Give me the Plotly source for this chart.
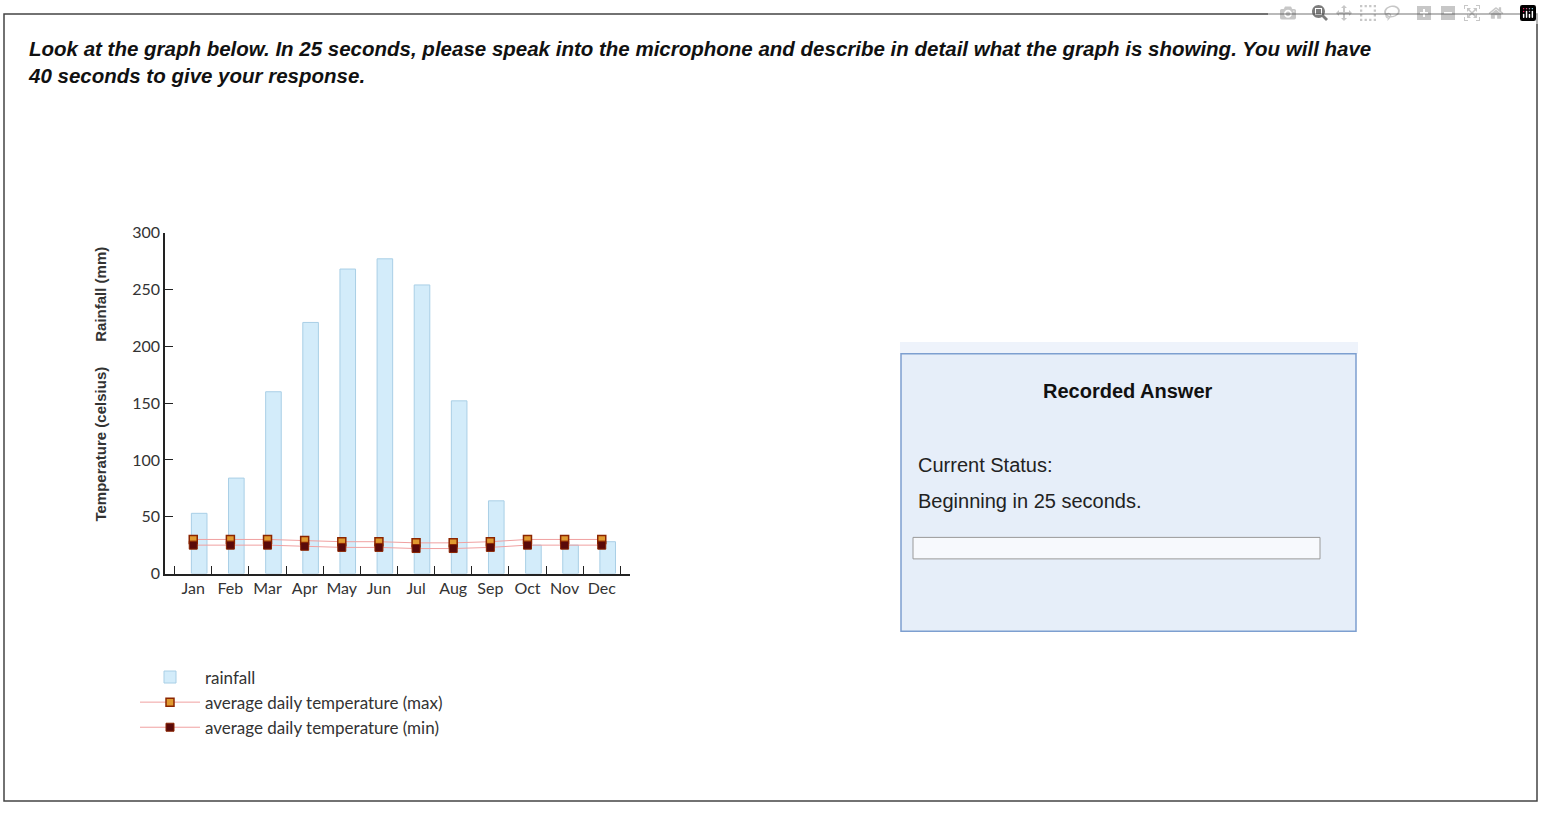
import plotly.graph_objects as go

months = ["Jan", "Feb", "Mar", "Apr", "May", "Jun", "Jul", "Aug", "Sep", "Oct", "Nov", "Dec"]
rainfall = [53, 84, 160, 221, 268, 277, 254, 152, 64, 25, 25, 28]
temp_max = [30, 30, 30, 29, 28, 28, 27, 27, 28, 30, 30, 30]
temp_min = [25, 25, 25, 24, 23, 23, 22, 22, 23, 25, 25, 25]

W, H = 1542, 814
px = lambda x: x / W
py = lambda y: 1 - y / H

fig = go.Figure()
fig.add_trace(go.Bar(x=months, y=rainfall, name="rainfall", width=0.42, offset=-0.05,
                     marker=dict(color="#d3ecfa", line=dict(color="#a9cfe6", width=1))))
fig.add_trace(go.Scatter(x=months, y=temp_max, name="average daily temperature (max)",
                         mode="lines+markers", line=dict(color="#f0a0a0", width=1),
                         marker=dict(symbol="square", size=8, color="#e09a30",
                                     line=dict(color="#8b2500", width=1.5))))
fig.add_trace(go.Scatter(x=months, y=temp_min, name="average daily temperature (min)",
                         mode="lines+markers", line=dict(color="#f0a0a0", width=1),
                         marker=dict(symbol="square", size=8, color="#5a0a0a",
                                     line=dict(color="#8b2500", width=1))))

shapes = [
    dict(type="rect", xref="paper", yref="paper", x0=px(4), x1=px(1537), y0=py(810), y1=py(4),
         line=dict(color="#444", width=1.5)),
    dict(type="rect", xref="paper", yref="paper", x0=px(900), x1=px(1358), y0=py(352), y1=py(340),
         fillcolor="#eef3fb", line=dict(width=0), layer="below"),
    dict(type="rect", xref="paper", yref="paper", x0=px(901), x1=px(1356), y0=py(636), y1=py(352),
         fillcolor="#e6eef9", line=dict(color="#7d9fd0", width=1.5), layer="below"),
    dict(type="rect", xref="paper", yref="paper", x0=px(913), x1=px(1320), y0=py(562), y1=py(540),
         fillcolor="#f7f9fd", line=dict(color="#9a9a9a", width=1)),
]

ann = [
    dict(x=px(26), y=py(26), xref="paper", yref="paper", xanchor="left", yanchor="top", align="left",
         showarrow=False,
         text="<b><i>Look at the graph below. In 25 seconds, please speak into the microphone and describe in detail what the graph is showing. You will have<br>40 seconds to give your response.</i></b>",
         font=dict(family="Liberation Sans, Arial", size=20.5, color="#111")),
    dict(x=px(90), y=py(383), xref="paper", yref="paper", textangle=-90, showarrow=False,
         text="<b>Temperature (celsius)      Rainfall (mm)</b>",
         font=dict(family="Liberation Sans, Arial", size=15, color="#333")),
    dict(x=px(1128), y=py(390), xref="paper", yref="paper", xanchor="center", showarrow=False,
         text="<b>Recorded Answer</b>", font=dict(family="Liberation Sans, Arial", size=20, color="#111")),
    dict(x=px(916), y=py(466), xref="paper", yref="paper", xanchor="left", showarrow=False,
         text="Current Status:", font=dict(family="Liberation Sans, Arial", size=20, color="#222")),
    dict(x=px(916), y=py(503), xref="paper", yref="paper", xanchor="left", showarrow=False,
         text="Beginning in 25 seconds.", font=dict(family="Liberation Sans, Arial", size=20, color="#222")),
]

fig.update_layout(
    width=W, height=H, margin=dict(l=0, r=0, t=0, b=0),
    paper_bgcolor="white", plot_bgcolor="white",
    font=dict(family="Lato", size=16, color="#333"),
    bargap=0.3, showlegend=True,
    legend=dict(x=px(135), y=py(665), xanchor="left", yanchor="top", bgcolor="rgba(0,0,0,0)",
                font=dict(family="Lato", size=17, color="#333"), tracegroupgap=4, itemwidth=60),
    shapes=shapes, annotations=ann,
    xaxis=dict(domain=[px(165), px(630)], showline=True, linecolor="#222", linewidth=1.5,
               ticks="inside", ticklen=8, tickcolor="#222", showgrid=False, tickson="boundaries",
               tickangle=0, tickfont=dict(size=16)),
    yaxis=dict(domain=[py(577), py(228)], range=[0, 300], tickvals=[0, 50, 100, 150, 200, 250, 300],
               showline=True, linecolor="#222", linewidth=1.5, ticks="inside", ticklen=8,
               tickcolor="#222", showgrid=False, zeroline=False),
)

fig.write_html("out.html",
               post_script="document.body.style.margin='0';document.body.style.overflow='hidden';")
